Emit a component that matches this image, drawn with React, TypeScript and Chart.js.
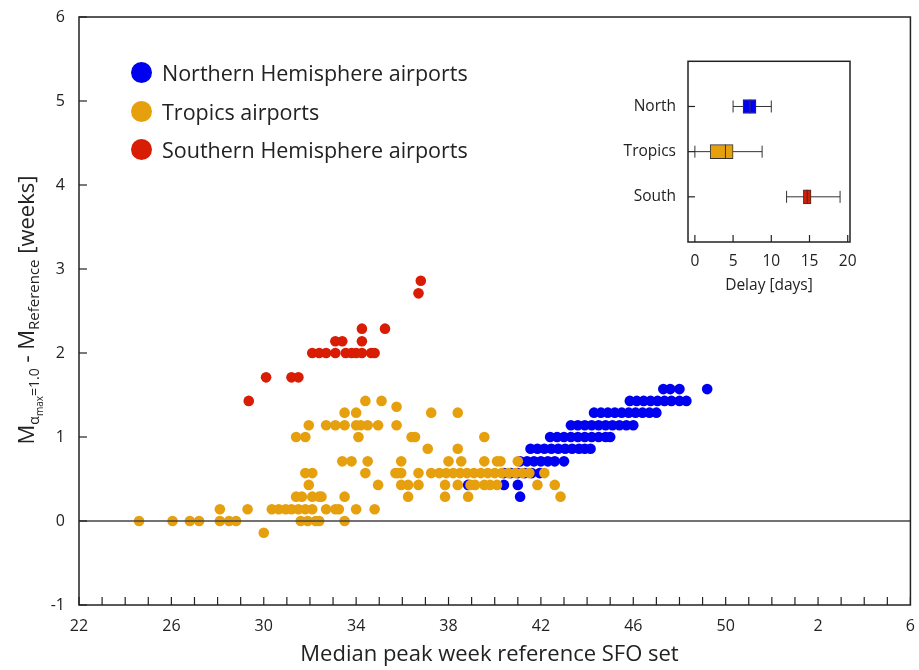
import { useEffect, useRef } from "react";
import { Chart, registerables } from "chart.js";

Chart.register(...registerables);

const FONT = "'Open Sans', 'Noto Sans', sans-serif";

// main chart: x = median peak week (22..58, wraps after 52), y = weeks
const xTickLabels = (v: number) => (v > 52 ? String(v - 52) : String(v));

const tropicsPts: [number, number][] = [
  [24.6, 0], [26.05, 0], [26.8, 0], [27.2, 0], [28.1, 0], [28.5, 0], [28.8, 0], [31.6, 0], [31.9, 0], [32.25, 0], [32.4, 0], [33.5, 0],
  [30.0, -0.14],
  [28.1, 0.14], [29.3, 0.14], [30.35, 0.14], [30.65, 0.14], [30.95, 0.14], [31.2, 0.14], [31.5, 0.14], [31.8, 0.14], [32.1, 0.14], [32.7, 0.14], [33.1, 0.14], [33.25, 0.14], [34.0, 0.14], [34.8, 0.14],
  [31.4, 0.29], [31.65, 0.29], [32.1, 0.29], [32.4, 0.29], [32.5, 0.29], [33.5, 0.29], [36.25, 0.29], [37.85, 0.29], [38.85, 0.29], [42.85, 0.29],
  [31.95, 0.43], [34.95, 0.43], [35.95, 0.43], [36.25, 0.43], [36.7, 0.43], [37.85, 0.43], [38.4, 0.43], [38.95, 0.43], [39.15, 0.43], [39.55, 0.43], [39.8, 0.43], [40.1, 0.43], [41.85, 0.43], [42.6, 0.43],
  [31.8, 0.57], [32.1, 0.57], [34.4, 0.57], [35.7, 0.57], [35.8, 0.57], [35.95, 0.57], [36.7, 0.57], [37.25, 0.57], [37.6, 0.57], [37.9, 0.57], [38.2, 0.57], [38.5, 0.57], [38.8, 0.57], [39.1, 0.57], [39.4, 0.57], [39.7, 0.57], [40.0, 0.57], [40.3, 0.57], [40.6, 0.57], [40.9, 0.57], [41.2, 0.57], [41.5, 0.57], [42.15, 0.57],
  [33.4, 0.71], [33.8, 0.71], [34.5, 0.71], [35.95, 0.71], [38.0, 0.71], [38.55, 0.71], [39.55, 0.71], [40.1, 0.71], [40.25, 0.71], [41.0, 0.71],
  [37.1, 0.86], [38.4, 0.86],
  [31.4, 1.0], [31.8, 1.0], [34.1, 1.0], [36.4, 1.0], [36.55, 1.0], [39.55, 1.0],
  [31.95, 1.14], [32.7, 1.14], [33.1, 1.14], [33.5, 1.14], [34.0, 1.14], [34.2, 1.14], [34.5, 1.14], [34.95, 1.14], [35.75, 1.14],
  [33.5, 1.29], [34.0, 1.29], [37.25, 1.29], [38.4, 1.29],
  [35.75, 1.36],
  [34.4, 1.43], [35.1, 1.43],
];

const northPts: [number, number][] = [
  [41.1, 0.29],
  [38.85, 0.43], [40.4, 0.43], [41.0, 0.43],
  [40.4, 0.57], [40.7, 0.57], [41.0, 0.57], [41.3, 0.57], [41.6, 0.57], [41.95, 0.57],
  [41.1, 0.71], [41.4, 0.71], [41.7, 0.71], [42.0, 0.71], [42.3, 0.71], [42.6, 0.71], [43.0, 0.71],
  [41.55, 0.86], [41.85, 0.86], [42.15, 0.86], [42.45, 0.86], [42.75, 0.86], [43.05, 0.86], [43.35, 0.86], [43.65, 0.86], [43.9, 0.86], [44.15, 0.86],
  [42.4, 1.0], [42.7, 1.0], [43.0, 1.0], [43.3, 1.0], [43.6, 1.0], [43.9, 1.0], [44.2, 1.0], [44.5, 1.0], [44.8, 1.0], [45.0, 1.0],
  [43.3, 1.14], [43.6, 1.14], [43.9, 1.14], [44.2, 1.14], [44.5, 1.14], [44.8, 1.14], [45.1, 1.14], [45.4, 1.14], [45.7, 1.14], [46.0, 1.14],
  [44.3, 1.29], [44.6, 1.29], [44.9, 1.29], [45.2, 1.29], [45.5, 1.29], [45.8, 1.29], [46.1, 1.29], [46.4, 1.29], [46.7, 1.29], [47.0, 1.29],
  [45.85, 1.43], [46.15, 1.43], [46.45, 1.43], [46.75, 1.43], [47.05, 1.43], [47.35, 1.43], [47.65, 1.43], [48.0, 1.43], [48.3, 1.43],
  [47.3, 1.57], [47.6, 1.57], [48.0, 1.57], [49.2, 1.57],
];

const southPts: [number, number][] = [
  [36.8, 2.86], [36.7, 2.71],
  [34.25, 2.29], [35.25, 2.29],
  [33.1, 2.14], [33.4, 2.14], [34.25, 2.14],
  [32.1, 2.0], [32.4, 2.0], [32.7, 2.0], [33.1, 2.0], [33.55, 2.0], [33.8, 2.0], [34.0, 2.0], [34.25, 2.0], [34.65, 2.0], [34.8, 2.0],
  [30.1, 1.71], [31.2, 1.71], [31.5, 1.71],
  [29.35, 1.43],
];

// inset: delay in days per region
const insetCats = ["North", "Tropics", "South"];
const insetMin = [5, 0, 12];
const insetQ1 = [6.3, 2, 14.2];
const insetMedian = [7.2, 4, 14.7];
const insetQ3 = [8, 5, 15.2];
const insetMax = [10, 8.8, 19];
const insetXTicks = [0, 5, 10, 15, 20];

const BLUE = "#0000f0";
const ORANGE = "#e6a00e";
const RED = "#d91c04";

const legendItems = [
  { label: "Northern Hemisphere airports", color: BLUE },
  { label: "Tropics airports", color: ORANGE },
  { label: "Southern Hemisphere airports", color: RED },
];

// ticks pointing into the plot, plus a full frame
const frameTicks = {
  id: "frameTicks",
  afterDraw(chart: any, _a: any, opts: any) {
    const { ctx, chartArea: ca } = chart;
    ctx.save();
    ctx.strokeStyle = "#222";
    ctx.lineWidth = 1.5;
    ctx.strokeRect(ca.left, ca.top, ca.right - ca.left, ca.bottom - ca.top);
    ctx.lineWidth = 1.2;
    const len = opts.len ?? 8;
    for (const v of opts.xValues ?? []) {
      const px = chart.scales.x.getPixelForValue(v);
      ctx.beginPath();
      ctx.moveTo(px, ca.bottom);
      ctx.lineTo(px, ca.bottom - len);
      ctx.stroke();
    }
    for (const v of opts.yValues ?? []) {
      const py = chart.scales.y.getPixelForValue(v);
      ctx.beginPath();
      ctx.moveTo(ca.left, py);
      ctx.lineTo(ca.left + len, py);
      ctx.stroke();
    }
    ctx.restore();
  },
};

const mainXTicks: number[] = [];
for (let v = 22; v <= 58; v++) mainXTicks.push(v);

function MainChart() {
  const ref = useRef<HTMLCanvasElement>(null);
  useEffect(() => {
    if (!ref.current) return;
    const dot = (pts: [number, number][], color: string, label: string) => ({
      type: "scatter" as const,
      label,
      data: pts.map(([x, y]) => ({ x, y })),
      backgroundColor: color,
      borderWidth: 0,
      pointRadius: 5.3,
    });
    const chart = new Chart(ref.current, {
      type: "scatter",
      data: {
        datasets: [
          {
            type: "line",
            label: "zero",
            data: [{ x: 22, y: 0 }, { x: 58, y: 0 }],
            borderColor: "#444",
            borderWidth: 1.5,
            pointRadius: 0,
          } as any,
          dot(tropicsPts, ORANGE, "Tropics"),
          dot(southPts, RED, "South"),
          dot(northPts, BLUE, "North"),
        ],
      },
      options: {
        responsive: false,
        animation: false,
        layout: { padding: { top: 17, right: 4, left: 0, bottom: 0 } },
        plugins: {
          legend: { display: false },
          tooltip: { enabled: false },
          frameTicks: { xValues: mainXTicks, yValues: [-1, 0, 1, 2, 3, 4, 5, 6], len: 8 },
        } as any,
        scales: {
          x: {
            type: "linear",
            min: 22,
            max: 58,
            afterFit: (s: any) => { s.height = 65; },
            grid: { display: false },
            border: { display: false },
            afterBuildTicks: (s: any) => { s.ticks = mainXTicks.filter((v) => (v - 22) % 4 === 0).map((v) => ({ value: v })); },
            ticks: {
              callback: (v: any) => xTickLabels(Number(v)),
              font: { family: FONT, size: 16 },
              color: "#222",
              padding: 4,
              maxRotation: 0,
            },
          },
          y: {
            min: -1,
            max: 6,
            afterFit: (s: any) => { s.width = 79; },
            grid: { display: false },
            border: { display: false },
            ticks: { stepSize: 1, font: { family: FONT, size: 16 }, color: "#222", padding: 6 },
          },
        },
      },
      plugins: [frameTicks],
    });
    return () => chart.destroy();
  }, []);
  return <canvas ref={ref} width={919} height={670} style={{ position: "absolute", left: 0, top: 0 }} />;
}

function InsetChart() {
  const ref = useRef<HTMLCanvasElement>(null);
  useEffect(() => {
    if (!ref.current) return;
    const colors = [BLUE, ORANGE, RED];
    const datasets: any[] = [];
    insetCats.forEach((_c, i) => {
      const y = i + 1;
      datasets.push({
        type: "line",
        data: [{ x: insetMin[i], y }, { x: insetMax[i], y }],
        borderColor: "#333",
        borderWidth: 1,
        pointStyle: "line",
        pointRotation: 90,
        pointRadius: 6,
        pointBorderColor: "#333",
        pointBorderWidth: 1,
        order: 3,
      });
    });
    datasets.push({
      type: "bar",
      data: insetCats.map((_c, i) => ({ x: [insetQ1[i], insetQ3[i]], y: i + 1 })),
      backgroundColor: colors,
      borderColor: "#333",
      borderWidth: 1,
      borderSkipped: false,
      barThickness: 14,
      order: 2,
    });
    datasets.push({
      type: "scatter",
      data: insetCats.map((_c, i) => ({ x: insetMedian[i], y: i + 1 })),
      pointStyle: "line",
      pointRotation: 90,
      pointRadius: 7,
      pointBorderColor: "#333",
      pointBorderWidth: 1,
      order: 1,
    });
    const chart = new Chart(ref.current, {
      type: "bar",
      data: { datasets },
      options: {
        responsive: false,
        animation: false,
        indexAxis: "y",
        layout: { padding: { top: 5, right: 10, left: 0, bottom: 0 } },
        plugins: {
          legend: { display: false },
          tooltip: { enabled: false },
          frameTicks: { xValues: insetXTicks, yValues: [1, 2, 3], len: 7 },
        } as any,
        scales: {
          x: {
            type: "linear",
            min: -0.9,
            max: 20.3,
            offset: false,
            afterFit: (s: any) => { s.height = 53; },
            afterBuildTicks: (s: any) => { s.ticks = insetXTicks.map((v) => ({ value: v })); },
            grid: { display: false },
            border: { display: false },
            ticks: { font: { family: FONT, size: 15.5 }, color: "#222", padding: 2, maxRotation: 0 },
            title: { display: true, text: "Delay [days]", font: { family: FONT, size: 15.5 }, color: "#222", padding: 0 },
          },
          y: {
            type: "linear",
            min: 0,
            max: 4,
            reverse: true,
            offset: false,
            afterFit: (s: any) => { s.width = 68; },
            afterBuildTicks: (s: any) => { s.ticks = [1, 2, 3].map((v) => ({ value: v })); },
            grid: { display: false },
            border: { display: false },
            ticks: {
              callback: (v: any) => insetCats[Number(v) - 1] ?? "",
              font: { family: FONT, size: 15.5 },
              color: "#222",
              padding: 4,
            },
          },
        },
      },
      plugins: [frameTicks],
    });
    return () => chart.destroy();
  }, []);
  return <canvas ref={ref} width={240} height={247} style={{ position: "absolute", left: 620, top: 48 }} />;
}

export default function App() {
  return (
    <div style={{ position: "fixed", left: 0, top: 0, width: 919, height: 670, background: "#fff", fontFamily: FONT, color: "#222" }}>
      <MainChart />
      <InsetChart />
      <div style={{ position: "absolute", left: 0, top: 0, width: 919, height: 670, pointerEvents: "none" }}>
        {legendItems.map((it, i) => (
          <div key={it.label} style={{ position: "absolute", left: 131, top: 58 + i * 38.5, display: "flex", alignItems: "center", fontSize: 21.5 }}>
            <span style={{ width: 21, height: 21, borderRadius: "50%", background: it.color, display: "inline-block", marginRight: 10 }} />
            {it.label}
          </div>
        ))}
        <div style={{ position: "absolute", left: 0, width: 919, top: 637, textAlign: "center", paddingLeft: 60, boxSizing: "border-box", fontSize: 22 }}>
          Median peak week reference SFO set
        </div>
        <div
          style={{
            position: "absolute",
            left: 28,
            top: 310,
            transform: "translate(-50%, -50%) rotate(-90deg)",
            whiteSpace: "nowrap",
            fontSize: 22,
          }}
        >
          M<sub style={{ fontSize: 14 }}>α<sub style={{ fontSize: 10 }}>max</sub>=1.0</sub> - M<sub style={{ fontSize: 15 }}>Reference</sub> [weeks]
        </div>
      </div>
    </div>
  );
}
